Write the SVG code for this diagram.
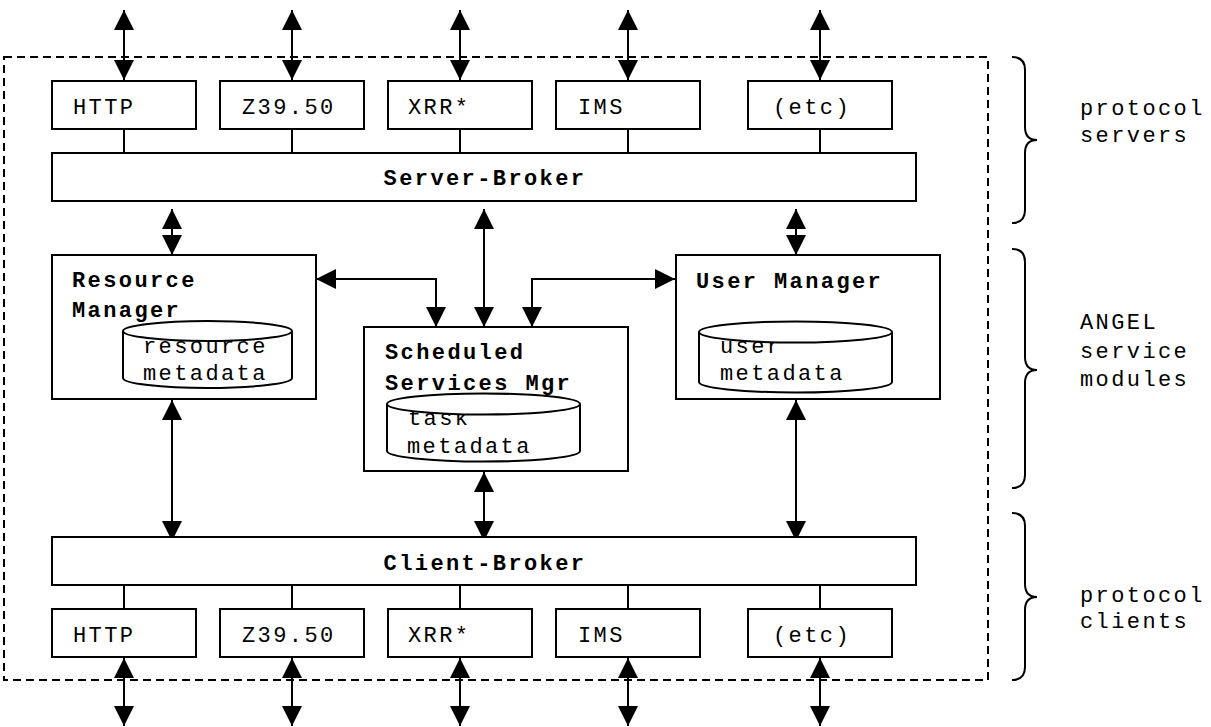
<svg xmlns="http://www.w3.org/2000/svg" width="1211" height="727" viewBox="0 0 1211 727">
  <style>
    .box { fill: #fff; stroke: #000; stroke-width: 2; }
    .db { fill: #fff; stroke: #000; stroke-width: 2; }
    .ln { fill: none; stroke: #000; stroke-width: 2; }
    .arr { fill: none; stroke: #000; stroke-width: 2; marker-start: url(#ah); marker-end: url(#ah); }
    .frame { fill: none; stroke: #000; stroke-width: 2; stroke-dasharray: 8 5; }
    text { font-family: "Liberation Mono", "Courier New", monospace; font-size: 22px; letter-spacing: 2.4px; fill: #000; }
    .b { font-weight: bold; }
    .c { text-anchor: middle; }
  </style>
  <defs>
    <marker id="ah" viewBox="0 0 20 20" refX="20" refY="10" markerWidth="20" markerHeight="20" markerUnits="userSpaceOnUse" orient="auto-start-reverse">
      <path d="M0,0 L20,10 L0,20 Z" fill="#000"/>
    </marker>
  </defs>
  <rect width="1211" height="727" fill="#fff"/>

  <!-- system boundary -->
  <rect class="frame" x="4" y="57" width="984" height="623"/>

  <!-- connectors -->
  <g id="connectors">
    <!-- external links to protocol servers -->
    <line class="arr" x1="124" y1="10" x2="124" y2="80"/>
    <line class="arr" x1="292" y1="10" x2="292" y2="80"/>
    <line class="arr" x1="460" y1="10" x2="460" y2="80"/>
    <line class="arr" x1="628" y1="10" x2="628" y2="80"/>
    <line class="arr" x1="820" y1="10" x2="820" y2="80"/>
    <!-- servers to server-broker -->
    <line class="ln" x1="124" y1="129" x2="124" y2="153"/>
    <line class="ln" x1="292" y1="129" x2="292" y2="153"/>
    <line class="ln" x1="460" y1="129" x2="460" y2="153"/>
    <line class="ln" x1="628" y1="129" x2="628" y2="153"/>
    <line class="ln" x1="820" y1="129" x2="820" y2="153"/>
    <!-- server-broker to modules -->
    <line class="arr" x1="172" y1="209" x2="172" y2="255"/>
    <line class="arr" x1="484" y1="209" x2="484" y2="327"/>
    <line class="arr" x1="796" y1="209" x2="796" y2="255"/>
    <!-- modules to scheduler -->
    <path class="arr" d="M316,279 H436 V327"/>
    <path class="arr" d="M675,279 H532 V327"/>
    <!-- modules to client-broker -->
    <line class="arr" x1="172" y1="400" x2="172" y2="541"/>
    <line class="arr" x1="484" y1="472" x2="484" y2="541"/>
    <line class="arr" x1="796" y1="400" x2="796" y2="541"/>
    <!-- client-broker to clients -->
    <line class="ln" x1="124" y1="585" x2="124" y2="609"/>
    <line class="ln" x1="292" y1="585" x2="292" y2="609"/>
    <line class="ln" x1="460" y1="585" x2="460" y2="609"/>
    <line class="ln" x1="628" y1="585" x2="628" y2="609"/>
    <line class="ln" x1="820" y1="585" x2="820" y2="609"/>
    <!-- external links from protocol clients -->
    <line class="arr" x1="124" y1="658" x2="124" y2="726"/>
    <line class="arr" x1="292" y1="658" x2="292" y2="726"/>
    <line class="arr" x1="460" y1="658" x2="460" y2="726"/>
    <line class="arr" x1="628" y1="658" x2="628" y2="726"/>
    <line class="arr" x1="820" y1="658" x2="820" y2="726"/>
  </g>

  <!-- protocol servers -->
  <g id="srv-http"><rect class="box" x="52" y="81" width="144" height="48"/><text x="73" y="114">HTTP</text></g>
  <g id="srv-z3950"><rect class="box" x="220" y="81" width="144" height="48"/><text x="242" y="114">Z39.50</text></g>
  <g id="srv-xrr"><rect class="box" x="388" y="81" width="144" height="48"/><text x="408" y="114">XRR*</text></g>
  <g id="srv-ims"><rect class="box" x="556" y="81" width="144" height="48"/><text x="578" y="114">IMS</text></g>
  <g id="srv-etc"><rect class="box" x="748" y="81" width="144" height="48"/><text x="773" y="114">(etc)</text></g>

  <g id="server-broker"><rect class="box" x="52" y="153" width="864" height="48"/><text class="b c" x="485" y="185">Server-Broker</text></g>

  <!-- service modules -->
  <g id="resource-manager">
    <rect class="box" x="52" y="255" width="264" height="144"/>
    <text class="b" x="72" y="287">Resource</text>
    <text class="b" x="72" y="317">Manager</text>
    <path class="db" d="M123,331 V378 A84.5,10 0 0 0 292,378 V331"/>
    <text x="143" y="353">resource</text>
    <text x="143" y="380">metadata</text>
    <ellipse class="db" cx="207.5" cy="331" rx="84.5" ry="10"/>
  </g>

  <g id="scheduled-services">
    <rect class="box" x="364" y="327" width="264" height="144"/>
    <text class="b" x="385" y="359">Scheduled</text>
    <text class="b" x="385" y="390">Services Mgr</text>
    <path class="db" d="M387,404 V451 A96.5,10.5 0 0 0 580,451 V404"/>
    <text x="408" y="425">task</text>
    <text x="407" y="453">metadata</text>
    <ellipse class="db" cx="483.5" cy="404" rx="96.5" ry="10.5"/>
  </g>

  <g id="user-manager">
    <rect class="box" x="676" y="255" width="264" height="144"/>
    <text class="b" x="696" y="288">User Manager</text>
    <path class="db" d="M699,332 V382 A96.5,10.5 0 0 0 892,382 V332"/>
    <text x="720" y="353">user</text>
    <text x="720" y="380">metadata</text>
    <ellipse class="db" cx="795.5" cy="332" rx="96.5" ry="10.5"/>
  </g>

  <g id="client-broker"><rect class="box" x="52" y="537" width="864" height="48"/><text class="b c" x="485" y="570">Client-Broker</text></g>

  <!-- protocol clients -->
  <g id="cli-http"><rect class="box" x="52" y="609" width="144" height="48"/><text x="73" y="642">HTTP</text></g>
  <g id="cli-z3950"><rect class="box" x="220" y="609" width="144" height="48"/><text x="242" y="642">Z39.50</text></g>
  <g id="cli-xrr"><rect class="box" x="388" y="609" width="144" height="48"/><text x="408" y="642">XRR*</text></g>
  <g id="cli-ims"><rect class="box" x="556" y="609" width="144" height="48"/><text x="578" y="642">IMS</text></g>
  <g id="cli-etc"><rect class="box" x="748" y="609" width="144" height="48"/><text x="773" y="642">(etc)</text></g>

  <!-- layer braces and captions -->
  <g id="brace-servers">
    <path class="ln" d="M1012,57 Q1025,57 1025,70 V127 Q1025,140 1037,140 Q1025,140 1025,153 V210 Q1025,223 1012,223"/>
    <text x="1080" y="115">protocol</text>
    <text x="1080" y="142">servers</text>
  </g>
  <g id="brace-modules">
    <path class="ln" d="M1012,249 Q1025,249 1025,262 V357 Q1025,370 1037,370 Q1025,370 1025,383 V475 Q1025,488 1012,488"/>
    <text x="1080" y="329">ANGEL</text>
    <text x="1080" y="358">service</text>
    <text x="1080" y="386">modules</text>
  </g>
  <g id="brace-clients">
    <path class="ln" d="M1012,513 Q1025,513 1025,526 V584 Q1025,597 1037,597 Q1025,597 1025,610 V667 Q1025,680 1012,680"/>
    <text x="1080" y="602">protocol</text>
    <text x="1080" y="628">clients</text>
  </g>
</svg>
